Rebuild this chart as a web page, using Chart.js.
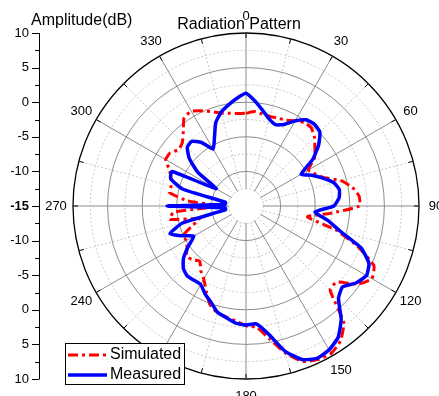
<!DOCTYPE html>
<html>
<head>
<meta charset="utf-8">
<script src="https://cdn.jsdelivr.net/npm/chart.js@4.4.0/dist/chart.umd.min.js"></script>
<style>
  body { margin: 0; background: #fff; }
  canvas { display: block; }
</style>
</head>
<body>
<canvas id="polarChart" width="439" height="396"></canvas>
<script>
// angle of each sample, degrees (clockwise from top)
const angles = [
  0, 5, 10, 15, 20, 25, 30, 35, 40, 45, 50, 55,
  60, 65, 70, 75, 80, 85, 90, 95, 100, 105, 110, 115,
  120, 125, 130, 135, 140, 145, 150, 155, 160, 165, 170, 175,
  180, 185, 190, 195, 200, 205, 210, 215, 220, 225, 230, 235,
  240, 245, 250, 255, 260, 265, 270, 275, 280, 285, 290, 295,
  300, 305, 310, 315, 320, 325, 330, 335, 340, 345, 350, 355
];

// amplitude in dB
const simulated = [
  -1.6, -1.3, -1.5, -1.6, -1.5, -1.3, -0.8, -0.3, -0.3, -1.0, -2.0, -2.9,
  -4.6, -4.0, -3.0, -0.8, 0.6, 1.4, 1.4, -2.8, -6.0, -1.5, 2.2, 5.4,
  6.0, 4.7, 2.1, 2.2, 7.0, 8.8, 9.6, 9.5, 8.9, 7.0, 4.5, 2.6,
  2.3, 1.7, 1.3, 1.0, 0.2, -1.4, -2.8, -3.6, -4.6, -4.0, -3.8, -4.6,
  -5.0, -5.0, -6.8, -8.0, -3.8, -4.5, -11.0, -6.5, -3.8, -3.8, -3.5, -2.8,
  -1.6, -1.6, -2.3, -2.0, -0.9, 0.6, 0.8, 0.2, -0.5, -1.1, -1.4, -1.6
];

const measured = [
  1.3, 0.2, -1.0, -2.0, -2.5, -2.0, -0.8, 0.2, 0.4, 0.1, -1.3, -3.2,
  -5.8, -4.5, -3.2, -1.9, -1.3, -1.5, -2.3, -5.0, -3.0, -0.9, 2.7, 4.6,
  5.1, 4.4, 3.2, 3.9, 6.4, 8.2, 9.0, 9.3, 8.6, 6.7, 3.8, 2.1,
  2.2, 2.0, 1.4, 0.9, -0.2, -1.0, -1.9, -1.9, -1.8, -2.2, -3.2, -4.8,
  -6.3, -4.8, -3.3, -5.5, -12.0, -12.0, -3.6, -12.0, -12.0, -5.5, -3.4, -3.2,
  -10.0, -6.5, -4.3, -3.0, -2.8, -3.8, -5.5, -4.2, -2.2, -1.0, -0.2, 0.6
];

const angleTickLabels = [0, 30, 60, 90, 120, 150, 180, 210, 240, 270, 300, 330];
const radialTickLabels = [10, 5, 0, -5, -10];
const radialMin = -15;
const radialMax = 10;

const FONT = "'Liberation Sans', Arial, sans-serif";

const polarDecor = {
  id: "polarDecor",
  beforeDatasetsDraw(chart) {
    const scale = chart.scales.r;
    const ctx = chart.ctx;
    const cx = scale.xCenter;
    const cy = scale.yCenter;
    // blank the inner hole (inside -12.5 dB)
    const hole = scale.getDistanceFromCenterForValue(-12.5);
    ctx.save();
    ctx.fillStyle = "#fff";
    ctx.beginPath();
    ctx.arc(cx, cy, hole - 0.6, 0, Math.PI * 2);
    ctx.fill();
    // short ticks on the outer ring every 15 degrees
    const outer = scale.getDistanceFromCenterForValue(radialMax);
    ctx.strokeStyle = "#000";
    ctx.lineWidth = 1;
    angles.forEach((a, i) => {
      if (a % 15 !== 0) return;
      const p1 = scale.getPointPosition(i, outer);
      const p2 = scale.getPointPosition(i, outer - 5);
      ctx.beginPath();
      ctx.moveTo(p1.x, p1.y);
      ctx.lineTo(p2.x, p2.y);
      ctx.stroke();
    });
    ctx.restore();
  },
  afterDraw(chart) {
    const scale = chart.scales.r;
    const ctx = chart.ctx;
    const cy = scale.yCenter;
    const outer = scale.getDistanceFromCenterForValue(radialMax);
    ctx.save();

    // angle labels
    ctx.fillStyle = "#000";
    ctx.font = "13px " + FONT;
    ctx.textAlign = "center";
    ctx.textBaseline = "middle";
    angleTickLabels.forEach((a) => {
      const i = angles.indexOf(a);
      const p = scale.getPointPosition(i, outer + 17);
      ctx.fillText(String(a), p.x, p.y);
    });

    // titles
    ctx.font = "16px " + FONT;
    ctx.textBaseline = "alphabetic";
    ctx.textAlign = "center";
    ctx.fillText("Radiation Pattern", 239, 29);
    ctx.textAlign = "left";
    ctx.fillText("Amplitude(dB)", 31, 25);

    // left amplitude axis, mirrored about the centre
    const axisX = 39;
    ctx.strokeStyle = "#000";
    ctx.lineWidth = 1;
    ctx.beginPath();
    ctx.moveTo(axisX + 0.5, cy - outer);
    ctx.lineTo(axisX + 0.5, cy + outer);
    ctx.stroke();
    ctx.textAlign = "right";
    ctx.textBaseline = "middle";
    const drawTick = (y, len) => {
      ctx.beginPath();
      ctx.moveTo(axisX - len, Math.round(y) + 0.5);
      ctx.lineTo(axisX + 0.5, Math.round(y) + 0.5);
      ctx.stroke();
    };
    radialTickLabels.forEach((v) => {
      const d = scale.getDistanceFromCenterForValue(v);
      [cy - d, cy + d].forEach((y) => {
        drawTick(y, 7);
        ctx.font = "13px " + FONT;
        ctx.fillText(String(v), axisX - 10, y);
      });
      const dm = scale.getDistanceFromCenterForValue(v - 2.5);
      drawTick(cy - dm, 4);
      drawTick(cy + dm, 4);
    });
    drawTick(cy, 7);
    ctx.font = "bold 13px " + FONT;
    ctx.fillText(String(radialMin), axisX - 10, cy);

    // legend box
    ctx.fillStyle = "#fff";
    ctx.fillRect(65, 343, 119, 41);
    ctx.strokeStyle = "#000";
    ctx.strokeRect(65.5, 343.5, 119, 41);
    ctx.lineWidth = 3;
    ctx.strokeStyle = "#ff0000";
    ctx.setLineDash([10, 4, 3, 4]);
    ctx.beginPath();
    ctx.moveTo(68, 355);
    ctx.lineTo(107, 355);
    ctx.stroke();
    ctx.setLineDash([]);
    ctx.lineWidth = 3.5;
    ctx.strokeStyle = "#0000ff";
    ctx.beginPath();
    ctx.moveTo(68, 375);
    ctx.lineTo(107, 375);
    ctx.stroke();
    ctx.fillStyle = "#000";
    ctx.font = "16px " + FONT;
    ctx.textAlign = "left";
    ctx.fillText("Simulated", 110, 355);
    ctx.fillText("Measured", 110, 375);
    ctx.restore();
  }
};

const ctx = document.getElementById("polarChart").getContext("2d");
new Chart(ctx, {
  type: "radar",
  data: {
    labels: angles,
    datasets: [
      {
        label: "Simulated",
        data: simulated,
        borderColor: "#ff0000",
        borderWidth: 3,
        borderDash: [10, 4, 3, 4],
        fill: false,
        pointRadius: 0,
        tension: 0.15,
        order: 1,
      },
      {
        label: "Measured",
        data: measured,
        borderColor: "#0000ff",
        borderWidth: 3.5,
        fill: false,
        pointRadius: 0,
        tension: 0.15,
        order: 0,
      },
    ],
  },
  options: {
    responsive: false,
    animation: false,
    layout: { padding: { left: 73, right: 20, top: 33, bottom: 17 } },
    plugins: {
      legend: { display: false },
      tooltip: { enabled: false },
    },
    scales: {
      r: {
        min: radialMin,
        max: radialMax,
        ticks: { display: false, stepSize: 2.5 },
        pointLabels: { display: false },
        grid: {
          circular: true,
          color: (c) => {
            const v = c.tick ? c.tick.value : 0;
            if (v === radialMax) return "#000";
            return v % 5 === 0 ? "#8c8c8c" : "#c8c8c8";
          },
          lineWidth: (c) => (c.tick && c.tick.value === radialMax ? 1.3 : 1),
        },
        border: {
          dash: (c) => (c.tick && c.tick.value % 5 !== 0 ? [2, 2] : []),
        },
        angleLines: {
          color: (c) => {
            const a = angles[c.index];
            if (a % 30 === 0) return "#8c8c8c";
            if (a % 15 === 0) return "#c8c8c8";
            return "rgba(0,0,0,0)";
          },
          lineWidth: (c) => (angles[c.index] % 15 === 0 ? 1 : 0),
          borderDash: (c) => (angles[c.index] % 30 === 0 ? [] : [2, 2]),
        },
      },
    },
  },
  plugins: [polarDecor],
});
</script>
</body>
</html>
